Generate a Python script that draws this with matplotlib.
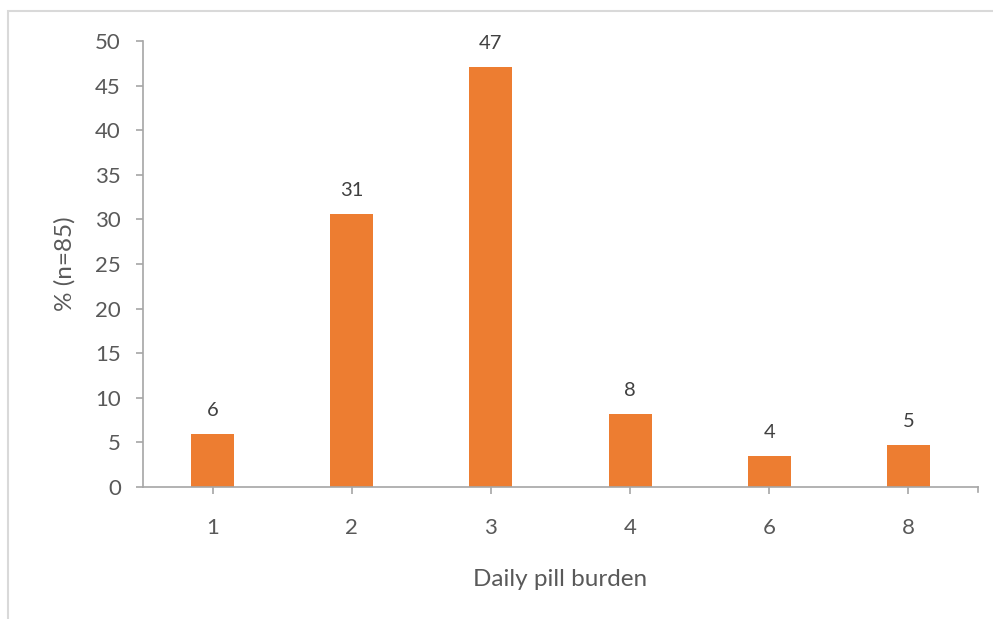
import matplotlib
matplotlib.use("Agg")
import matplotlib.pyplot as plt
from matplotlib.patches import Rectangle
import numpy as np

# Daily pill burden distribution (% of n=85)
categories = ["1", "2", "3", "4", "6", "8"]
percent = [5.9, 30.6, 47.1, 8.2, 3.5, 4.7]

TEXT = "#595959"
LABEL = "#404040"
AXIS = "#A6A6A6"
BAR = "#ED7D31"

plt.rcParams["font.family"] = ["Lato", "DejaVu Sans"]

W, H = 993, 619
fig = plt.figure(figsize=(W / 100, H / 100), dpi=100)

# light frame around the chart area
fig.patches.append(Rectangle((8 / W, -0.1), 1.2, 1 - 11 / H + 0.1,
                             transform=fig.transFigure, fill=False,
                             edgecolor="#D9D9D9", linewidth=1.5))

ax = fig.add_axes([143 / W, 1 - 487 / H, (978 - 143) / W, (487 - 41) / H])

x = np.arange(len(categories))
bars = ax.bar(x, percent, width=0.31, color=BAR)

for xi, v in zip(x, percent):
    ax.annotate(f"{v:.0f}", (xi, v), xytext=(0, 17), textcoords="offset points",
                ha="center", va="center", fontsize=14.5, color=LABEL)

ax.set_xlim(-0.5, len(categories) - 0.5)
ax.set_ylim(0, 50)
ax.set_yticks(np.arange(0, 51, 5))
ax.set_xticks(x)
ax.set_xticklabels(categories)

for s in ["top", "right"]:
    ax.spines[s].set_visible(False)
for s in ["left", "bottom"]:
    ax.spines[s].set_color(AXIS)
    ax.spines[s].set_linewidth(1.2)

ax.tick_params(axis="both", colors=AXIS, labelcolor=TEXT, labelsize=16,
               length=5, width=1.2)
ax.tick_params(axis="x", pad=17)
ax.tick_params(axis="y", pad=11)
# end tick at the right of the category axis
ax.plot([1, 1], [0, -0.012], transform=ax.transAxes, color=AXIS,
        linewidth=1.2, clip_on=False)

ax.set_xlabel("Daily pill burden", fontsize=17.5, color=TEXT, labelpad=23)
ax.set_ylabel("% (n=85)", fontsize=17.5, color=TEXT, labelpad=14)

fig.savefig("out.png", dpi=100)
